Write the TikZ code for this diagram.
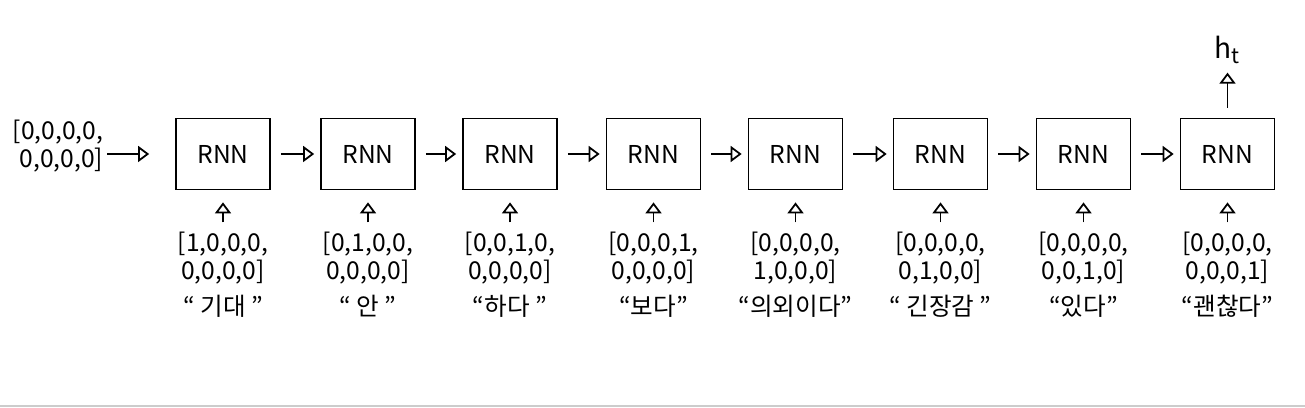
\documentclass[tikz,border=0pt]{standalone}
\usepackage{fontspec}
\setmainfont{Noto Sans CJK KR}
\usetikzlibrary{arrows.meta,positioning}

\begin{document}
\begin{tikzpicture}[
    cell/.style={draw, line width=0.5pt, minimum width=0.94cm, minimum height=0.71cm, font=\fontsize{7}{8}\selectfont},
    vec/.style={align=center, font=\fontsize{7}{8}\selectfont, inner sep=1pt},
    word/.style={font=\fontsize{7}{8}\selectfont, inner sep=1pt},
    arr/.style={line width=0.5pt, -{Triangle[open, length=1.1mm, width=1.6mm]}},
]
    \useasboundingbox (0,0) rectangle (13.05,4.07);

    % Boxes
    \node[cell] (r1) at (2.23,2.53) {RNN};
    \node[cell] (r2) at (3.68,2.53) {RNN};
    \node[cell] (r3) at (5.10,2.53) {RNN};
    \node[cell] (r4) at (6.535,2.53) {RNN};
    \node[cell] (r5) at (7.955,2.53) {RNN};
    \node[cell] (r6) at (9.405,2.53) {RNN};
    \node[cell] (r7) at (10.835,2.53) {RNN};
    \node[cell] (r8) at (12.275,2.53) {RNN};

    % Initial state and output
    \node[vec, align=right] (x0) at (0.58,2.61) {[0,0,0,0,\\0,0,0,0]};
    \node[word, font=\fontsize{8}{9}\selectfont, above=0.5cm of r8] (ht) {h\textsubscript{t}};

    % Input vectors
    \node[vec, below=0.37cm of r1] (v1) {[1,0,0,0,\\0,0,0,0]};
    \node[vec, below=0.37cm of r2] (v2) {[0,1,0,0,\\0,0,0,0]};
    \node[vec, below=0.37cm of r3] (v3) {[0,0,1,0,\\0,0,0,0]};
    \node[vec, below=0.37cm of r4] (v4) {[0,0,0,1,\\0,0,0,0]};
    \node[vec, below=0.37cm of r5] (v5) {[0,0,0,0,\\1,0,0,0]};
    \node[vec, below=0.37cm of r6] (v6) {[0,0,0,0,\\0,1,0,0]};
    \node[vec, below=0.37cm of r7] (v7) {[0,0,0,0,\\0,0,1,0]};
    \node[vec, below=0.37cm of r8] (v8) {[0,0,0,0,\\0,0,0,1]};

    % Words
    \node[word, below=0.03cm of v1] (w1) {“ 기대 ”};
    \node[word, below=0.03cm of v2] (w2) {“ 안 ”};
    \node[word, below=0.03cm of v3] (w3) {“하다 ”};
    \node[word, below=0.03cm of v4] (w4) {“보다”};
    \node[word, below=0.03cm of v5] (w5) {“의외이다”};
    \node[word, below=0.03cm of v6] (w6) {“ 긴장감 ”};
    \node[word, below=0.03cm of v7] (w7) {“있다”};
    \node[word, below=0.03cm of v8] (w8) {“괜찮다”};

    % Arrows
    \draw[arr, shorten >=0.26cm] (x0.east |- r1.west) -- (r1.west);
    \draw[arr, shorten <=0.1cm, shorten >=0.06cm] (r1.east) -- (r2.west);
    \draw[arr, shorten <=0.1cm, shorten >=0.06cm] (r2.east) -- (r3.west);
    \draw[arr, shorten <=0.1cm, shorten >=0.06cm] (r3.east) -- (r4.west);
    \draw[arr, shorten <=0.1cm, shorten >=0.06cm] (r4.east) -- (r5.west);
    \draw[arr, shorten <=0.1cm, shorten >=0.06cm] (r5.east) -- (r6.west);
    \draw[arr, shorten <=0.1cm, shorten >=0.06cm] (r6.east) -- (r7.west);
    \draw[arr, shorten <=0.1cm, shorten >=0.06cm] (r7.east) -- (r8.west);

    \draw[arr, shorten <=0.05cm, shorten >=0.12cm] (v1.north) -- (r1.south);
    \draw[arr, shorten <=0.05cm, shorten >=0.12cm] (v2.north) -- (r2.south);
    \draw[arr, shorten <=0.05cm, shorten >=0.12cm] (v3.north) -- (r3.south);
    \draw[arr, shorten <=0.05cm, shorten >=0.12cm] (v4.north) -- (r4.south);
    \draw[arr, shorten <=0.05cm, shorten >=0.12cm] (v5.north) -- (r5.south);
    \draw[arr, shorten <=0.05cm, shorten >=0.12cm] (v6.north) -- (r6.south);
    \draw[arr, shorten <=0.05cm, shorten >=0.12cm] (v7.north) -- (r7.south);
    \draw[arr, shorten <=0.05cm, shorten >=0.12cm] (v8.north) -- (r8.south);

    \draw[arr, shorten <=0.1cm, shorten >=0.05cm] (r8.north) -- (ht.south);

    % Bottom edge
    \draw[gray!40, line width=0.6pt] (0,0.01) -- (13.05,0.01);

\end{tikzpicture}
\end{document}
